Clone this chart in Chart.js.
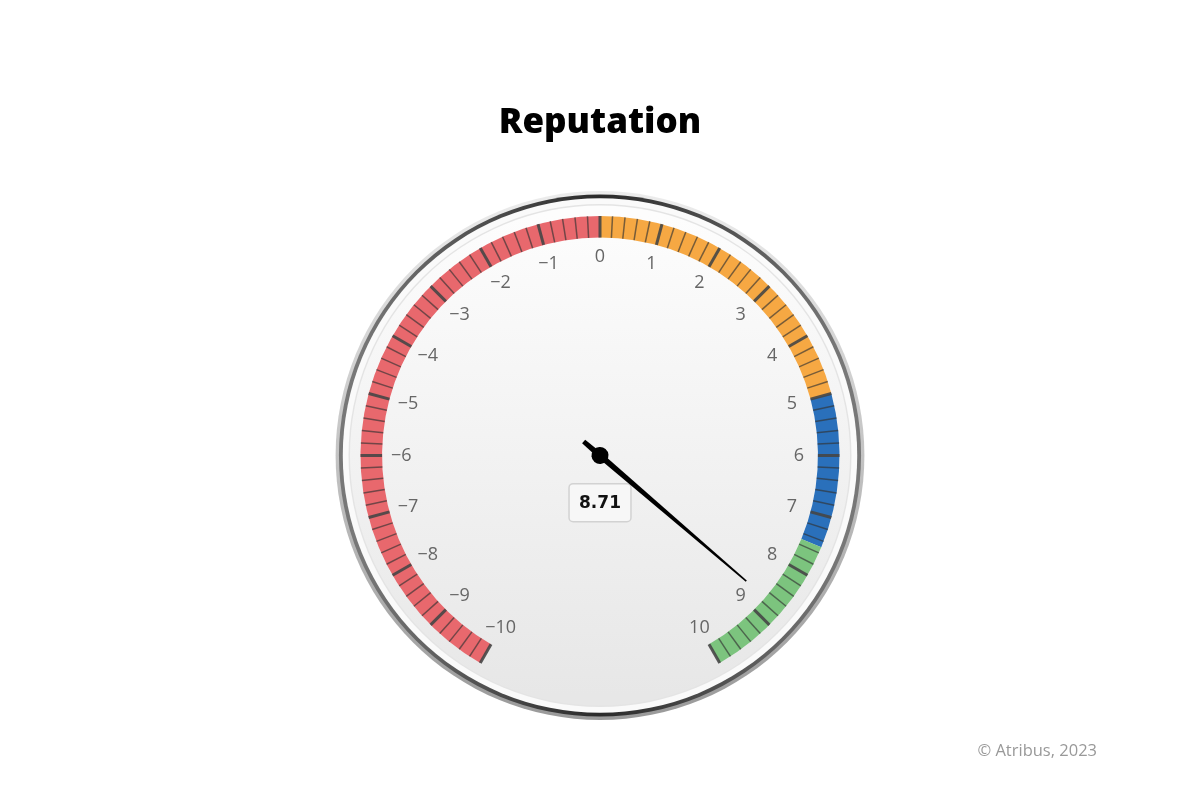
<!DOCTYPE html>
<html>
<head>
<meta charset="utf-8">
<title>Reputation</title>
<script src="https://cdn.jsdelivr.net/npm/chart.js@4"></script>
<style>
  html, body { margin: 0; padding: 0; background: #fff; }
  #gauge { display: block; }
</style>
</head>
<body>
<canvas id="gauge" width="1200" height="800"></canvas>
<script>
// scale and data
const scaleMin = -10;
const scaleMax = 10;
const minorStep = 0.2;
const tickValues = [-10, -9, -8, -7, -6, -5, -4, -3, -2, -1, 0, 1, 2, 3, 4, 5, 6, 7, 8, 9, 10];
const tickLabels = ["\u221210", "\u22129", "\u22128", "\u22127", "\u22126", "\u22125", "\u22124", "\u22123", "\u22122", "\u22121",
  "0", "1", "2", "3", "4", "5", "6", "7", "8", "9", "10"];
const bandFrom = [-10, 0, 5, 7.5];
const bandTo = [0, 5, 7.5, 10];
const bandColors = ["#e8686d", "#f6a843", "#2a70bb", "#7cc47e"];
const gapUnits = 4; // 60 degrees left open at the bottom
const reputation = 8.71;

const bandSizes = bandFrom.map((f, i) => bandTo[i] - f);

function valueAngle(chart, v) {
  const arcs = chart.getDatasetMeta(0).data;
  const a0 = arcs[0].startAngle;
  const a1 = arcs[bandFrom.length - 1].endAngle;
  return a0 + (v - scaleMin) / (scaleMax - scaleMin) * (a1 - a0);
}

const gaugePlugin = {
  id: "gauge",
  beforeDatasetsDraw(chart) {
    const ctx = chart.ctx;
    const arc = chart.getDatasetMeta(0).data[0];
    const cx = arc.x, cy = arc.y, R = arc.outerRadius;
    ctx.save();
    // outer silver rim
    let g = ctx.createLinearGradient(0, cy - R * 1.1, 0, cy + R * 1.1);
    g.addColorStop(0, "#ececec");
    g.addColorStop(1, "#9a9a9a");
    ctx.fillStyle = g;
    ctx.beginPath(); ctx.arc(cx, cy, R * 1.104, 0, Math.PI * 2); ctx.fill();
    // dark ring
    g = ctx.createLinearGradient(cx - R, 0, cx + R, 0);
    g.addColorStop(0, "#777");
    g.addColorStop(0.5, "#2a2a2a");
    g.addColorStop(1, "#777");
    ctx.fillStyle = g;
    ctx.beginPath(); ctx.arc(cx, cy, R * 1.09, 0, Math.PI * 2); ctx.fill();
    // white inner rim
    ctx.fillStyle = "#fafafa";
    ctx.beginPath(); ctx.arc(cx, cy, R * 1.074, 0, Math.PI * 2); ctx.fill();
    ctx.fillStyle = "#e4e4e4";
    ctx.beginPath(); ctx.arc(cx, cy, R * 1.05, 0, Math.PI * 2); ctx.fill();
    // face
    g = ctx.createLinearGradient(0, cy - R, 0, cy + R);
    g.addColorStop(0, "#fdfdfd");
    g.addColorStop(1, "#e7e7e7");
    ctx.fillStyle = g;
    ctx.beginPath(); ctx.arc(cx, cy, R * 1.044, 0, Math.PI * 2); ctx.fill();
    ctx.restore();
  },
  afterDatasetsDraw(chart) {
    const ctx = chart.ctx;
    const arc = chart.getDatasetMeta(0).data[0];
    const cx = arc.x, cy = arc.y, R = arc.outerRadius, r = arc.innerRadius;
    ctx.save();
    // ticks across the band
    const n = Math.round((scaleMax - scaleMin) / minorStep);
    for (let i = 0; i <= n; i++) {
      const v = scaleMin + i * minorStep;
      const a = valueAngle(chart, v);
      const major = Math.abs(v - Math.round(v)) < 1e-6;
      ctx.strokeStyle = major ? "rgba(70,70,70,0.9)" : "rgba(50,50,50,0.65)";
      ctx.lineWidth = major ? 3 : 1.5;
      ctx.beginPath();
      ctx.moveTo(cx + r * Math.cos(a), cy + r * Math.sin(a));
      ctx.lineTo(cx + R * Math.cos(a), cy + R * Math.sin(a));
      ctx.stroke();
    }
    // tick labels
    ctx.fillStyle = "#666";
    ctx.font = "18px 'Open Sans', 'DejaVu Sans', sans-serif";
    ctx.textAlign = "center";
    ctx.textBaseline = "middle";
    const lr = R * 0.83;
    tickValues.forEach((v, i) => {
      const a = valueAngle(chart, v);
      ctx.fillText(tickLabels[i], cx + lr * Math.cos(a), cy + lr * Math.sin(a));
    });
    // value box
    const bx = cx, by = cy + R * 0.197;
    ctx.font = "bold 17px 'DejaVu Sans', sans-serif";
    const txt = reputation.toFixed(2);
    const tw = ctx.measureText(txt).width;
    const bw = tw + 20, bh = 38;
    ctx.fillStyle = "rgba(247,247,247,0.9)";
    ctx.strokeStyle = "#d2d2d2";
    ctx.lineWidth = 1.5;
    ctx.beginPath();
    ctx.roundRect(bx - bw / 2, by - bh / 2, bw, bh, 4);
    ctx.fill(); ctx.stroke();
    ctx.fillStyle = "#111";
    ctx.fillText(txt, bx, by + 1);
    // needle
    const a = valueAngle(chart, reputation);
    const len = R * 0.805, rear = R * 0.09;
    ctx.translate(cx, cy);
    ctx.rotate(a);
    ctx.fillStyle = "#000";
    ctx.beginPath();
    ctx.moveTo(-rear, -2.4);
    ctx.lineTo(0, -3);
    ctx.lineTo(len, -0.8);
    ctx.lineTo(len, 0.8);
    ctx.lineTo(0, 3);
    ctx.lineTo(-rear, 2.4);
    ctx.closePath();
    ctx.fill();
    ctx.beginPath();
    ctx.arc(0, 0, 8.5, 0, Math.PI * 2);
    ctx.fill();
    ctx.restore();
  },
  afterDraw(chart) {
    const ctx = chart.ctx;
    ctx.save();
    ctx.fillStyle = "#999";
    ctx.font = "16.5px 'Open Sans', sans-serif";
    ctx.textAlign = "right";
    ctx.textBaseline = "middle";
    ctx.fillText("\u00a9 Atribus, 2023", 1097, 751);
    ctx.restore();
  }
};

new Chart(document.getElementById("gauge"), {
  type: "doughnut",
  data: {
    labels: ["Band 1", "Band 2", "Band 3", "Band 4", ""],
    datasets: [
      {
        data: [...bandSizes, gapUnits],
        backgroundColor: [...bandColors, "rgba(0,0,0,0)"],
        borderWidth: 0,
        hoverOffset: 0,
      },
    ],
  },
  options: {
    responsive: false,
    animation: false,
    events: [],
    rotation: -150,
    circumference: 360,
    cutout: "91%",
    layout: { padding: { top: 0, bottom: 105, left: 0, right: 0 } },
    plugins: {
      legend: { display: false },
      tooltip: { enabled: false },
      title: {
        display: true,
        text: "Reputation",
        color: "#000",
        font: { family: "'Open Sans', 'Lato', sans-serif", size: 35, weight: "800" },
        padding: { top: 102, bottom: 72 },
      },
    },
  },
  plugins: [gaugePlugin],
});
</script>
</body>
</html>
